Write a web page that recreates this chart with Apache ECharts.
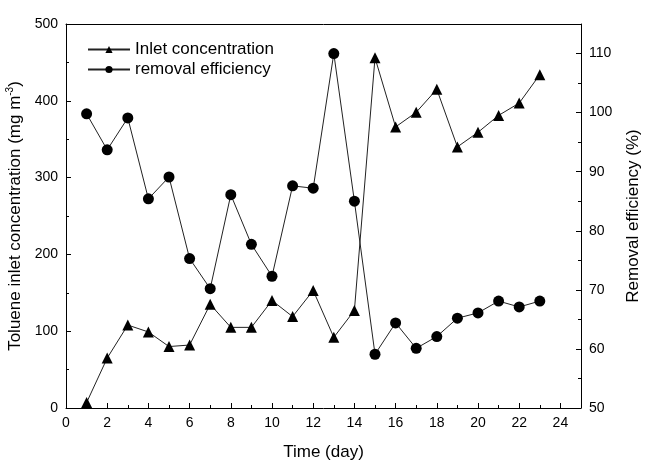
<!DOCTYPE html>
<html><head><meta charset="utf-8">
<script src="https://cdn.jsdelivr.net/npm/echarts@6/dist/echarts.min.js"></script>
<style>html,body{margin:0;padding:0;background:#fff}#c{width:649px;height:463px}</style>
</head><body><div id="c"></div>
<script>
var days = [1,2,3,4,5,6,7,8,9,10,11,12,13,14,15,16,17,18,19,20,21,22,23];
var inletConc = [7,65,108,99,80,82,135,105,105,140,119,153,92,127,456,366,385,415,340,359,381,397,434];
var removalEff = [99.8,93.7,99.1,85.4,89.1,75.3,70.2,86.1,77.7,72.3,87.6,87.2,110,85.0,59.1,64.4,60.1,62.1,65.2,66.1,68.1,67.1,68.1];
var xTicks = {min:0, max:25, interval:2};
var leftTicks = {min:0, max:500, interval:100};
var rightTicks = {min:50, max:115, interval:10};

var font = 'Liberation Sans, Arial, sans-serif';
var chart = echarts.init(document.getElementById('c'));
function pairs(xs, ys){ return xs.map(function(x,i){return [x, ys[i]];}); }
var axisCommon = {
  axisLine:{show:true, onZero:false, lineStyle:{color:'#000', width:1}},
  axisTick:{show:true, inside:true, length:5, lineStyle:{color:'#000'}},
  minorTick:{show:true, splitNumber:2, length:3, lineStyle:{color:'#000'}},
  splitLine:{show:false},
  axisLabel:{color:'#000', fontSize:14, fontFamily:font, showMaxLabel:false},
  nameTextStyle:{color:'#000', fontSize:17, fontFamily:font}
};
function ax(extra){ return Object.assign({}, JSON.parse(JSON.stringify(axisCommon)), extra); }
chart.setOption({
  animation:false,
  backgroundColor:'#fff',
  grid:{left:66, right:68, top:24, bottom:55, outerBoundsMode:'none', containLabel:false},
  legend:{
    orient:'vertical', left:82, top:36, itemGap:3, itemWidth:42, itemHeight:9,
    textStyle:{color:'#000', fontSize:17, fontFamily:font},
    data:['Inlet concentration','removal efficiency']
  },
  xAxis:[
    ax({type:'value', position:'bottom', min:xTicks.min, max:xTicks.max, interval:xTicks.interval,
      name:'Time (day)', nameLocation:'middle', nameGap:36}),
    {type:'value', position:'top', min:xTicks.min, max:xTicks.max,
      axisLine:{show:true, onZero:false, lineStyle:{color:'#000', width:1}},
      axisTick:{show:false}, axisLabel:{show:false}, splitLine:{show:false}}
  ],
  yAxis:[
    ax({type:'value', position:'left', min:leftTicks.min, max:leftTicks.max, interval:leftTicks.interval,
      axisLabel:{color:'#000', fontSize:14, fontFamily:font, showMaxLabel:true},
      name:'{a|Toluene inlet concentration (mg m}{s|-3}{a|)}', nameLocation:'middle', nameGap:41,
      nameTextStyle:{color:'#000', fontFamily:font, rich:{a:{fontSize:17, fontFamily:font, color:'#000'}, s:{fontSize:10, fontFamily:font, color:'#000', padding:[0,0,10,0]}}}}),
    ax({type:'value', position:'right', min:rightTicks.min, max:rightTicks.max, interval:rightTicks.interval,
      name:'Removal efficiency (%)', nameLocation:'middle', nameGap:44, nameRotate:90})
  ],
  series:[
    {name:'Inlet concentration', type:'line', yAxisIndex:0, data:pairs(days, inletConc),
      symbol:'triangle', symbolSize:11, lineStyle:{color:'#222', width:1}, itemStyle:{color:'#000'}},
    {name:'removal efficiency', type:'line', yAxisIndex:1, data:pairs(days, removalEff),
      symbol:'circle', symbolSize:11, lineStyle:{color:'#222', width:1}, itemStyle:{color:'#000'}}
  ]
});
</script></body></html>
